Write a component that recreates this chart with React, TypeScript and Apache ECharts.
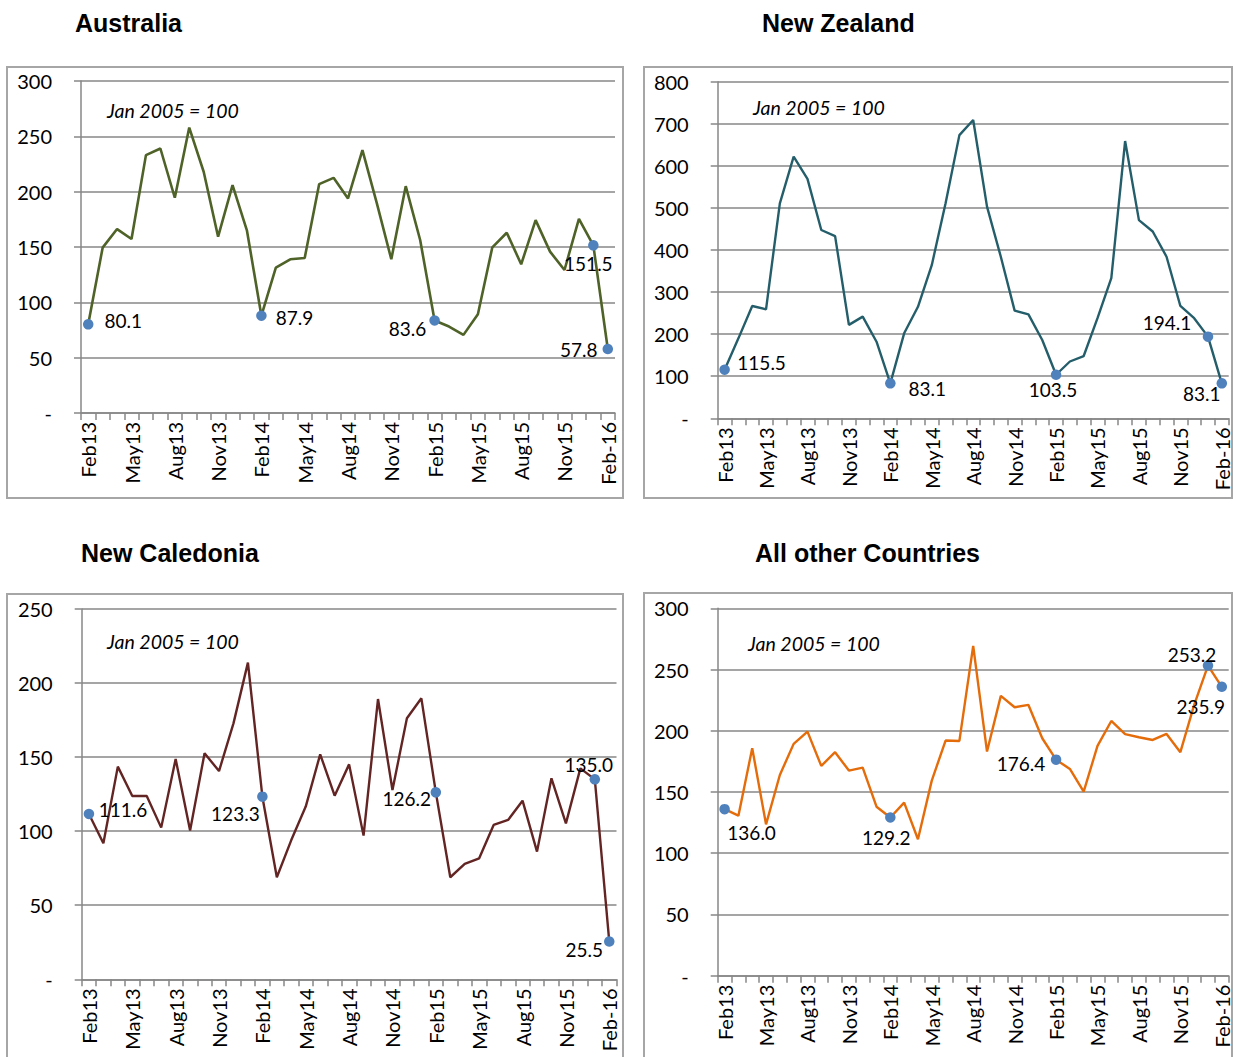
import React, { useEffect, useRef } from "react";
import * as echarts from "echarts";

const categories = [
  "Feb13", "Mar13", "Apr13", "May13", "Jun13", "Jul13", "Aug13", "Sep13", "Oct13", "Nov13", "Dec13", "Jan14",
  "Feb14", "Mar14", "Apr14", "May14", "Jun14", "Jul14", "Aug14", "Sep14", "Oct14", "Nov14", "Dec14", "Jan15",
  "Feb15", "Mar15", "Apr15", "May15", "Jun15", "Jul15", "Aug15", "Sep15", "Oct15", "Nov15", "Dec15", "Jan16",
  "Feb-16",
];

const australia = [
  80.1, 149.4, 166.2, 157.2, 233, 239, 194.5, 257.9, 218, 159.3, 205.9, 164.7, 87.9,
  131.3, 138.9, 140.1, 206.8, 212.5, 193.9, 237.5, 189.4, 138.9, 205, 156.3, 83.6,
  78.1, 70.6, 89.3, 149.7, 162.9, 134.4, 174.3, 145.8, 129.2, 175.5, 151.5, 57.8,
];

const newZealand = [
  115.5, 190, 267, 259, 511, 622, 569, 447.5, 433, 222, 241.6, 182, 83.1,
  202, 265, 364, 511, 673, 709, 503, 384, 256, 247, 186, 103.5,
  135, 148, 238, 333, 659, 471, 444, 384, 267, 238, 194.1, 83.1,
];

const newCaledonia = [
  111.6, 91.8, 143.6, 123.8, 123.8, 102.4, 148.7, 100.4, 152.6, 140.6, 172.8, 213.8, 123.3,
  68.9, 94, 116.6, 151.9, 124, 145.1, 97, 189.2, 127.8, 176.2, 189.7, 126.2,
  68.9, 77.9, 81.7, 104.2, 107.6, 120.6, 86.2, 135.7, 105.3, 142.4, 135.0, 25.5,
];

const otherCountries = [
  136.0, 130.7, 185.7, 123.6, 163.9, 189.3, 199.3, 171.3, 182.5, 167.5, 169.9, 138, 129.2,
  141.3, 111.4, 159.3, 192, 191.7, 269.3, 183, 228.5, 219.2, 221.1, 193.9, 176.4,
  168.8, 150.3, 187.6, 208, 197.2, 194.7, 192.5, 197.4, 182.5, 221.1, 253.2, 235.9,
];

const highlightIdx = [0, 12, 24, 35, 36];
const titles = ["Australia", "New Zealand", "New Caledonia", "All other Countries"];
const yMax = [300, 800, 250, 300];
const yInterval = [50, 100, 50, 50];
const noteText = "Jan 2005 = 100";

// layout / style (not data)
const panels = [
  {
    values: australia, color: "#4F6228", lineWidth: 2.6,
    grid: { left: 81, top: 81, width: 534, height: 332 },
    box: [7, 67, 616, 431], titlePos: [75, 23], notePos: [107, 110],
    offsets: [[35, -4], [33, 2], [-27, 8], [-5, 18], [-29, 0]],
  },
  {
    values: newZealand, color: "#255E6B", lineWidth: 2.4,
    grid: { left: 717.7, top: 81.7, width: 511, height: 336.6 },
    box: [644, 67, 588, 431], titlePos: [762, 23], notePos: [753, 107],
    offsets: [[37, -7], [37, 5], [-3, 15], [-41, -14], [-20, 10]],
  },
  {
    values: newCaledonia, color: "#632523", lineWidth: 2.4,
    grid: { left: 81.7, top: 609, width: 534.8, height: 370.3 },
    box: [7, 594, 616, 480], titlePos: [81, 553], notePos: [107, 641],
    offsets: [[34, -4], [-27, 17], [-29, 6], [-6, -15], [-25, 8]],
  },
  {
    values: otherCountries, color: "#E46C0A", lineWidth: 2.4,
    grid: { left: 717.7, top: 608.3, width: 511, height: 367.4 },
    box: [644, 593, 588, 480], titlePos: [755, 553], notePos: [748, 643],
    offsets: [[27, 23], [-4, 20], [-35, 4], [-16, -11], [-21, 20]],
  },
];

const GRAY = "#878787";
const FONT = "Lato, 'Open Sans', sans-serif";

export default function App() {
  const ref = useRef<HTMLDivElement>(null);

  useEffect(() => {
    if (!ref.current) return;
    const chart = echarts.init(ref.current, undefined, { renderer: "svg" });

    const grids: any[] = [];
    const xAxes: any[] = [];
    const yAxes: any[] = [];
    const series: any[] = [];
    const graphics: any[] = [];

    panels.forEach((p, i) => {
      grids.push({ ...p.grid, containLabel: false });
      xAxes.push({
        type: "category",
        gridIndex: i,
        data: categories,
        boundaryGap: true,
        axisLine: { show: true, lineStyle: { color: GRAY, width: 1.5 } },
        axisTick: { show: true, interval: 0, length: 7, lineStyle: { color: GRAY, width: 1.5 } },
        axisLabel: {
          interval: 2,
          rotate: 90,
          margin: 9,
          fontSize: 20,
          fontFamily: FONT,
          color: "#000",
        },
        splitLine: { show: false },
      });
      yAxes.push({
        type: "value",
        gridIndex: i,
        min: 0,
        max: yMax[i],
        interval: yInterval[i],
        axisLine: { show: true, lineStyle: { color: GRAY, width: 1.5 } },
        axisTick: { show: true, length: 7, lineStyle: { color: GRAY, width: 1.5 } },
        axisLabel: {
          margin: 29,
          fontSize: 20,
          fontFamily: FONT,
          color: "#000",
          formatter: (v: number) => (v === 0 ? "-" : String(v)),
        },
        splitLine: { show: true, lineStyle: { color: GRAY, width: 1.5 } },
      });
      series.push({
        type: "line",
        xAxisIndex: i,
        yAxisIndex: i,
        data: p.values,
        showSymbol: false,
        symbol: "none",
        lineStyle: { color: p.color, width: p.lineWidth },
        z: 2,
      });
      series.push({
        type: "scatter",
        xAxisIndex: i,
        yAxisIndex: i,
        symbol: "circle",
        symbolSize: 10.5,
        itemStyle: { color: "#4F81BD", opacity: 1 },
        z: 3,
        data: highlightIdx.map((idx, k) => ({
          value: [idx, p.values[idx]],
          label: {
            show: true,
            position: "inside",
            align: "center",
            verticalAlign: "middle",
            offset: p.offsets[k],
            formatter: () => p.values[idx].toFixed(1),
            fontSize: 19,
            fontFamily: FONT,
            color: "#000",
            opacity: 1,
            textBorderWidth: 0,
            textBorderColor: "transparent",
          },
        })),
      });
      graphics.push({
        type: "rect",
        shape: { x: p.box[0], y: p.box[1], width: p.box[2], height: p.box[3] },
        style: { fill: "none", stroke: "#A6A6A6", lineWidth: 2 },
        z: 0,
      });
      graphics.push({
        type: "text",
        x: p.titlePos[0],
        y: p.titlePos[1],
        style: {
          text: titles[i],
          font: "bold 25px 'Liberation Sans', Arial, sans-serif",
          fill: "#000",
          textVerticalAlign: "middle",
          verticalAlign: "middle",
        },
      });
      graphics.push({
        type: "text",
        x: p.notePos[0],
        y: p.notePos[1],
        style: {
          text: noteText,
          font: "italic 19.5px Lato, 'Open Sans', sans-serif",
          fill: "#000",
          textVerticalAlign: "middle",
          verticalAlign: "middle",
        },
      });
    });

    chart.setOption({
      animation: false,
      backgroundColor: "#fff",
      grid: grids,
      xAxis: xAxes,
      yAxis: yAxes,
      series,
      graphic: graphics,
    });

    return () => chart.dispose();
  }, []);

  return (
    <div
      ref={ref}
      style={{ position: "absolute", left: 0, top: 0, width: 1235, height: 1057 }}
    />
  );
}
